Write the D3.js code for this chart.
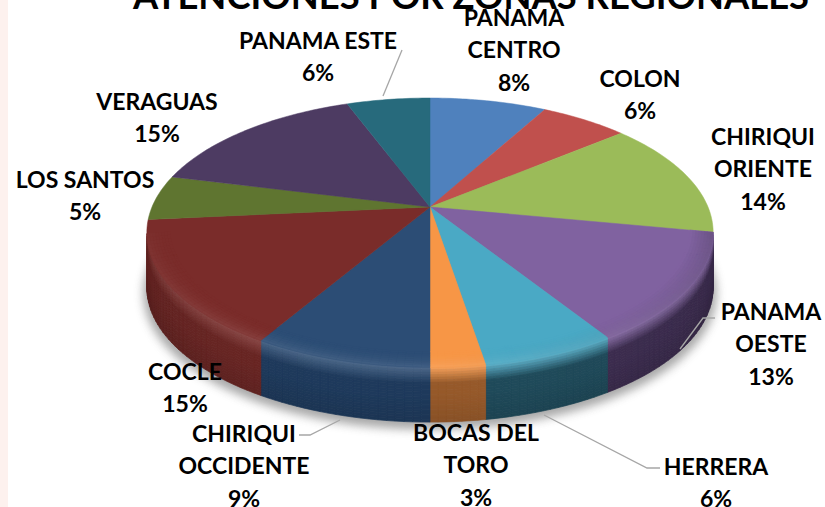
<!DOCTYPE html>
<html><head><meta charset="utf-8">
<script src="https://cdn.jsdelivr.net/npm/d3@7/dist/d3.min.js"></script>
<style>html,body{margin:0;padding:0;background:#fff;overflow:hidden}svg{display:block}text{font-family:Lato,"Open Sans",sans-serif;font-weight:700;fill:#000}</style>
</head><body><svg id="c" width="825" height="507"></svg>
<script>
const title = "ATENCIONES POR ZONAS REGIONALES";
const categories = ["PANAMA CENTRO","COLON","CHIRIQUI ORIENTE","PANAMA OESTE","HERRERA","BOCAS DEL TORO","CHIRIQUI OCCIDENTE","COCLE","LOS SANTOS","VERAGUAS","PANAMA ESTE"];
const values = [8,6,14,13,6.4,2.6,8.5,15,5.4,15.4,5.7];
const topColors = ["#4f81bd","#c0504d","#9bbb59","#8062a0","#4aa9c5","#f79646","#2c4d75","#7a2c2a","#5f7530","#4d3b62","#276a7c"];
const sideColors = ["#2f4d71","#73302e","#5d7035","#3d2d50","#1f4a5a","#96592a","#1e3a5c","#6a2624","#4c5e26","#3e2f4e","#1f5563"];
const labelLines = [["PANAMA","CENTRO"],["COLON"],["CHIRIQUI","ORIENTE"],["PANAMA","OESTE"],["HERRERA"],["BOCAS DEL","TORO"],["CHIRIQUI","OCCIDENTE"],["COCLE"],["LOS SANTOS"],["VERAGUAS"],["PANAMA ESTE"]];
const labelAnchors = [[514,26],[640,87],[763,145],[771,320],[716,475],[476,441],[244,442],[185,380],[85,188],[157,110],[318,49]];
const leaders = {3:[[715,318],[703,318],[680,349]],4:[[660,468],[647,468],[544,415]],6:[[299,435],[310,435],[340,420]],10:[[402,50],[383,96]]};

const svg = d3.select("#c");
const cx=430, cy=207, R=278, S=129.7, k=0.19, depth=55;
function pt(a,s,d){const u=Math.sin(a)*s,v=Math.cos(a)*s,w=1+k*v;return [cx+R*u/w, cy-S*v/w+d];}
const line=d3.line();
const TAU=Math.PI*2, step=TAU/360;
const pie=d3.pie().sort(null).startAngle(0).endAngle(TAU);
const arcs=pie(values);

svg.append("rect").attr("width",8).attr("height",507).attr("fill","#fdf1ee");

const defs=svg.append("defs");
defs.append("filter").attr("id","blur").attr("x","-20%").attr("y","-20%").attr("width","140%").attr("height","140%")
  .append("feGaussianBlur").attr("stdDeviation",5);
const ring=(s,d)=>d3.range(0,TAU,step).map(a=>pt(a,s,d));
svg.append("path").attr("d",line(ring(1.012,depth+5))+"Z").attr("fill","#6e6e6e").attr("opacity",.6).attr("filter","url(#blur)");

const sideLayer=svg.append("g");
const bevelSteps=d3.range(0,depth,2.5);
arcs.forEach((sl,i)=>{
  const top=d3.rgb(topColors[i]), side=d3.rgb(sideColors[i]);
  const n=Math.max(2,Math.ceil((sl.endAngle-sl.startAngle)/(step*1.5)));
  const as=d3.range(n+1).map(j=>sl.startAngle+(sl.endAngle-sl.startAngle)*j/n);
  for(let j=0;j<n;j++){
    const a0=as[j],a1=as[j+1],am=(a0+a1)/2;
    if(Math.cos(am)>-k) continue;
    const front=Math.max(0,-Math.cos(am));
    const leftBias=Math.sin(am)<0?1:0.75;
    bevelSteps.forEach(d=>{
      const t=(d+1.25)/depth;
      const hi=d3.interpolateRgb(top,"#fff")(0.16*Math.pow(front,.8)*leftBias);
      let c=d3.interpolateRgb(hi,side)(Math.min(1,t/0.3));
      const edge=Math.pow(Math.abs(Math.sin(am)),3);
      c=d3.interpolateRgb(c,"#000")(0.10*edge+0.18*Math.max(0,t-.5));
      const d1=d+2.5;
      const poly=[pt(a0,1,d),pt(a1,1,d),pt(a1,1,d1),pt(a0,1,d1)];
      sideLayer.append("path").attr("d",line(poly)+"Z").attr("fill",c).attr("stroke",c).attr("stroke-width",.7);
    });
  }
});

const topLayer=svg.append("g");
arcs.forEach((sl,i)=>{
  const n=Math.ceil((sl.endAngle-sl.startAngle)/step);
  const pts=[[cx,cy]].concat(d3.range(n+1).map(j=>pt(sl.startAngle+(sl.endAngle-sl.startAngle)*j/n,1,0)));
  topLayer.append("path").attr("d",line(pts)+"Z").attr("fill",topColors[i]).attr("stroke",topColors[i]).attr("stroke-width",.5);
});
const bevelScales=d3.range(0.92,1,0.01);
arcs.forEach((sl,i)=>{
  const top=d3.rgb(topColors[i]);
  const n=Math.max(2,Math.ceil((sl.endAngle-sl.startAngle)/(step*1.5)));
  for(let j=0;j<n;j++){
    const a0=sl.startAngle+(sl.endAngle-sl.startAngle)*j/n,a1=sl.startAngle+(sl.endAngle-sl.startAngle)*(j+1)/n,am=(a0+a1)/2;
    if(Math.cos(am)>-k) continue;
    const front=Math.max(0,-Math.cos(am)), right=Math.max(0,Math.sin(am));
    bevelScales.forEach(s=>{
      const t=(s-0.92)/0.08;
      const c=d3.interpolateRgb(d3.interpolateRgb(top,"#fff")(0.12*t*t*front),"#000")(0.22*t*right*(1-front*.5));
      const poly=[pt(a0,s,0),pt(a1,s,0),pt(a1,s+.01,0),pt(a0,s+.01,0)];
      topLayer.append("path").attr("d",line(poly)+"Z").attr("fill",c).attr("stroke",c).attr("stroke-width",.5);
    });
  }
});

Object.values(leaders).forEach(p=>svg.append("path").attr("d",line(p)).attr("fill","none").attr("stroke","#a6a6a6").attr("stroke-width",1.3));

const fs=23, lh=32.3;
categories.forEach((c,i)=>{
  const rows=labelLines[i].concat([Math.round(values[i])+"%"]);
  const g=svg.append("text").attr("text-anchor","middle").attr("font-size",fs);
  rows.forEach((r,j)=>g.append("tspan").attr("x",labelAnchors[i][0]).attr("y",labelAnchors[i][1]+j*lh).text(r));
});
svg.append("text").attr("x",471).attr("y",9).attr("text-anchor","middle").attr("font-size",36.4).text(title);
</script></body></html>
